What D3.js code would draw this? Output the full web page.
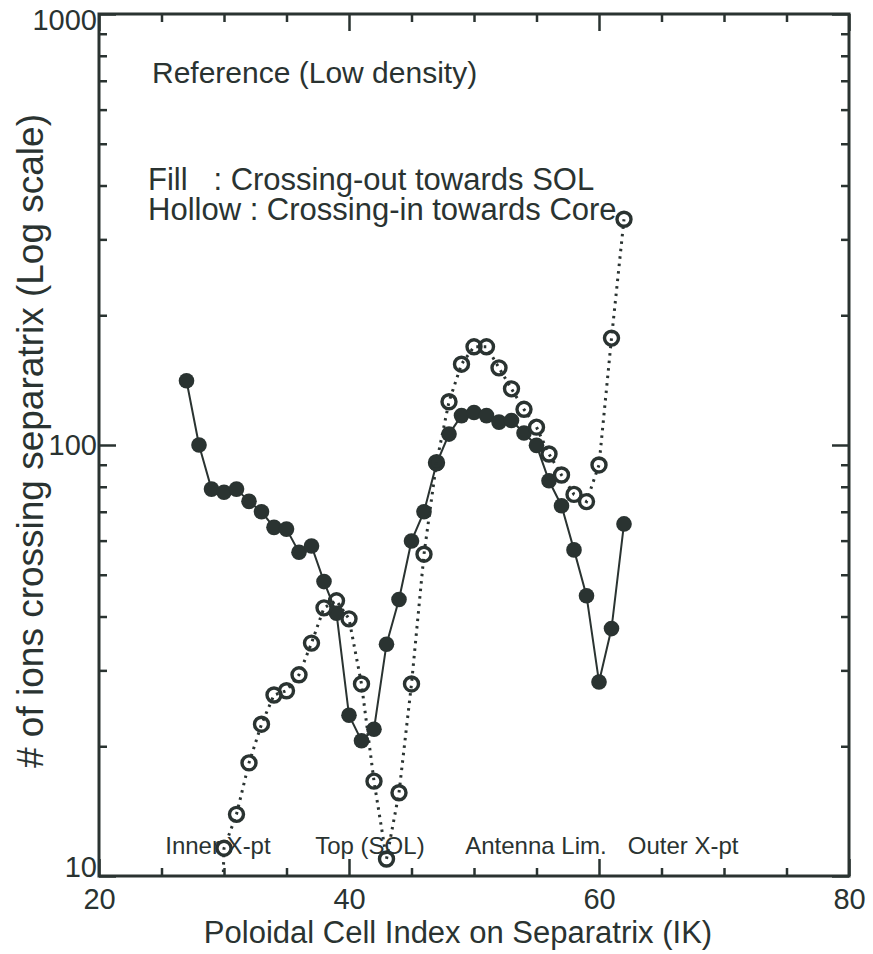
<!DOCTYPE html>
<html>
<head>
<meta charset="utf-8">
<script src="https://cdn.jsdelivr.net/npm/d3@7"></script>
<style>
  html, body { margin: 0; padding: 0; background: #fff; }
  svg text { font-family: "Liberation Sans", Arial, sans-serif; fill: #2a3331; }
</style>
</head>
<body>
<svg id="chart" width="873" height="954"></svg>
<script>
// Poloidal cell index along the separatrix
const ikFill = [27, 28, 29, 30, 31, 32, 33, 34, 35, 36, 37, 38, 39, 40, 41, 42, 43, 44,
                45, 46, 47, 48, 49, 50, 51, 52, 53, 54, 55, 56, 57, 58, 59, 60, 61, 62];
// Ions crossing out towards the SOL (filled markers)
const crossOut = [141, 100, 79, 77.7, 79, 74, 70, 64.4, 63.8, 56.4, 58.3, 48.2, 40.7, 23.6, 20.6, 21.9, 34.5, 43.8,
                  59.9, 70, 90.5, 106, 117, 119, 117, 113, 114, 106.6, 99.8, 82.6, 72.3, 57.1, 44.7, 28.2, 37.5, 65.6];

const ikHollow = [29, 30, 31, 32, 33, 34, 35, 36, 37, 38, 39, 40, 41, 42, 43, 44, 45,
                  46, 47, 48, 49, 50, 51, 52, 53, 54, 55, 56, 57, 58, 59, 60, 61, 62];
// Ions crossing in towards the core (hollow markers)
const crossIn = [1, 11.6, 13.9, 18.3, 22.5, 26.3, 26.9, 29.3, 34.7, 41.9, 43.5, 39.5, 27.9, 16.6, 10.95, 15.6, 27.9,
                 55.8, 91, 126, 154, 169, 169, 151, 135, 121, 110, 95.3, 85.2, 76.8, 73.9, 89.9, 177, 334];

const xMajorTicks = [20, 40, 60, 80];
const xMinorTicks = [25, 30, 35, 45, 50, 55, 65, 70, 75];
const yMajorTicks = [10, 100, 1000];
const yMinorTicks = [20, 30, 40, 50, 60, 70, 80, 90, 200, 300, 400, 500, 600, 700, 800, 900];

const regionLabels = ["Inner X-pt", "Top (SOL)", "Antenna Lim.", "Outer X-pt"];
const regionLabelIK = [25.3, 37.3, 49.3, 62.3];

const INK = "#2a3331";
const svg = d3.select("#chart");
const pLeft = 99, pRight = 849, pTop = 14, pBottom = 876;

const x = d3.scaleLinear().domain([20, 80]).range([pLeft, pRight]);
const y = d3.scaleLog().domain([10, 1000]).range([pBottom, pTop]);

svg.append("defs").append("clipPath").attr("id", "plotClip")
  .append("rect").attr("x", pLeft).attr("y", pTop)
  .attr("width", pRight - pLeft).attr("height", pBottom - pTop);

// Ticks pointing inward on all four sides
function tickAxis(axisGen, ticks, size, tx, ty) {
  const g = svg.append("g").attr("transform", `translate(${tx},${ty})`)
    .call(axisGen.tickValues(ticks).tickSize(size).tickFormat(""));
  g.select(".domain").remove();
  g.selectAll("line").attr("stroke", INK).attr("stroke-width", 2.5);
  return g;
}
tickAxis(d3.axisBottom(x), xMajorTicks, -17, 0, pBottom);
tickAxis(d3.axisBottom(x), xMinorTicks, -8, 0, pBottom);
tickAxis(d3.axisTop(x), xMajorTicks, -17, 0, pTop);
tickAxis(d3.axisTop(x), xMinorTicks, -8, 0, pTop);
tickAxis(d3.axisLeft(y), yMajorTicks, -17, pLeft, 0);
tickAxis(d3.axisLeft(y), yMinorTicks, -8, pLeft, 0);
tickAxis(d3.axisRight(y), yMajorTicks, -17, pRight, 0);
tickAxis(d3.axisRight(y), yMinorTicks, -8, pRight, 0);

// Frame
svg.append("rect").attr("x", pLeft).attr("y", pTop)
  .attr("width", pRight - pLeft).attr("height", pBottom - pTop)
  .attr("fill", "none").attr("stroke", INK).attr("stroke-width", 3);

// Tick labels
const xLab = svg.append("g").attr("transform", `translate(0,${pBottom})`)
  .call(d3.axisBottom(x).tickValues(xMajorTicks).tickSize(0).tickPadding(0).tickFormat(d3.format("d")));
xLab.select(".domain").remove();
xLab.selectAll("text").attr("font-size", 29).attr("dy", null).attr("y", 33)
  .attr("font-family", "Liberation Sans, Arial, sans-serif").attr("fill", INK);

const yLab = svg.append("g").attr("transform", `translate(${pLeft},0)`)
  .call(d3.axisLeft(y).tickValues(yMajorTicks).tickSize(0).tickPadding(2).tickFormat(d3.format("d")));
yLab.select(".domain").remove();
yLab.selectAll(".tick").attr("transform", d => `translate(0,${Math.min(Math.max(y(d), pTop + 6), pBottom - 9)})`);
yLab.selectAll("text").attr("font-size", 29).attr("dy", "0.36em")
  .attr("font-family", "Liberation Sans, Arial, sans-serif").attr("fill", INK);

// Axis titles
svg.append("text").attr("x", 458).attr("y", 943)
  .attr("text-anchor", "middle").attr("font-size", 31)
  .text("Poloidal Cell Index on Separatrix (IK)");
svg.append("text").attr("transform", `translate(43,441) rotate(-90)`)
  .attr("text-anchor", "middle").attr("font-size", 37)
  .text("# of ions crossing separatrix (Log scale)");

// Annotations
svg.append("text").attr("x", 152).attr("y", 83).attr("font-size", 30).text("Reference (Low density)");
svg.append("text").attr("x", 148).attr("y", 190).attr("font-size", 31)
  .attr("xml:space", "preserve").style("white-space", "pre").text("Fill   : Crossing-out towards SOL");
svg.append("text").attr("x", 148).attr("y", 220).attr("font-size", 31)
  .text("Hollow : Crossing-in towards Core");

svg.append("g").selectAll("text").data(regionLabels).join("text")
  .attr("x", (d, i) => x(regionLabelIK[i])).attr("y", 854)
  .attr("font-size", 24).text(d => d);

const plot = svg.append("g").attr("clip-path", "url(#plotClip)");
const fillData = ikFill.map((k, i) => ({ k, v: crossOut[i] }));
const hollowData = ikHollow.map((k, i) => ({ k, v: crossIn[i] }));
const line = d3.line().x(d => x(d.k)).y(d => y(d.v));

// Crossing-out: solid line with filled dots
plot.append("path").datum(fillData).attr("d", line)
  .attr("fill", "none").attr("stroke", INK).attr("stroke-width", 2);
plot.append("g").selectAll("circle").data(fillData).join("circle")
  .attr("cx", d => x(d.k)).attr("cy", d => y(d.v)).attr("r", 7.8).attr("fill", INK);

// Crossing-in: dotted line with hollow circles
plot.append("path").datum(hollowData).attr("d", line)
  .attr("fill", "none").attr("stroke", INK).attr("stroke-width", 3)
  .attr("stroke-dasharray", "2.5,5");
plot.append("g").selectAll("circle").data(hollowData).join("circle")
  .attr("cx", d => x(d.k)).attr("cy", d => y(d.v)).attr("r", 7)
  .attr("fill", "none").attr("stroke", INK).attr("stroke-width", 3.4);
</script>
</body>
</html>
